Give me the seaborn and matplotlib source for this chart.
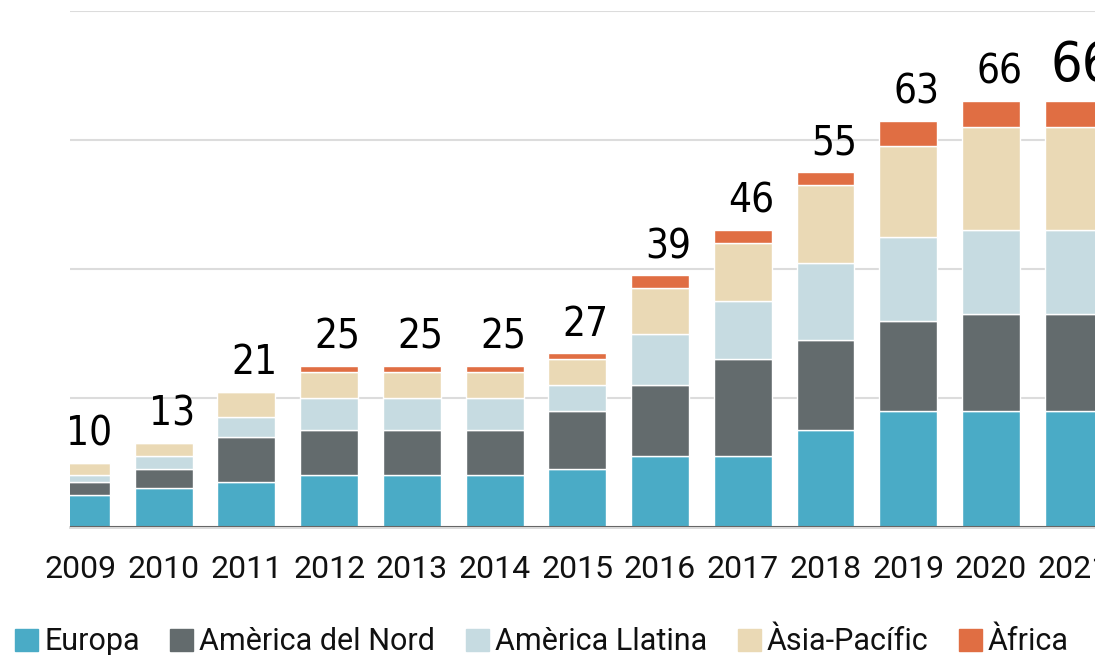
import numpy as np
import pandas as pd
import matplotlib
matplotlib.use('Agg')
import matplotlib.pyplot as plt
import seaborn as sns
from matplotlib.patches import Patch

# dades (llegides del gràfic)
years = ['2009', '2010', '2011', '2012', '2013', '2014', '2015',
         '2016', '2017', '2018', '2019', '2020', '2021']
europa = [5, 6, 7, 8, 8, 8, 9, 11, 11, 15, 18, 18, 18]
america_nord = [2, 3, 7, 7, 7, 7, 9, 11, 15, 14, 14, 15, 15]
america_llatina = [1, 2, 3, 5, 5, 5, 4, 8, 9, 12, 13, 13, 13]
asia_pacific = [2, 2, 4, 4, 4, 4, 4, 7, 9, 12, 14, 16, 16]
africa = [0, 0, 0, 1, 1, 1, 1, 2, 2, 2, 4, 4, 4]

regions = ['Europa', 'Amèrica del Nord', 'Amèrica Llatina', 'Àsia-Pacífic', 'Àfrica']
colors = ['#4AABC6', '#636B6D', '#C6DBE1', '#EAD9B5', '#E06E43']

df = pd.DataFrame({'year': years, 'Europa': europa, 'Amèrica del Nord': america_nord,
                   'Amèrica Llatina': america_llatina, 'Àsia-Pacífic': asia_pacific,
                   'Àfrica': africa})

sns.set_style('white')
plt.rcParams['font.family'] = ['Roboto', 'DejaVu Sans']
plt.rcParams['text.color'] = '#111111'
plt.rcParams['xtick.labelcolor'] = '#111111'

fig = plt.figure(figsize=(10.95, 6.55), dpi=100)
ax = fig.add_axes([70 / 1095, 128 / 655, 1045 / 1095, 516 / 655])

bottom = np.zeros(len(years))
for reg, col in zip(regions, colors):
    sns.barplot(data=df, x='year', y=reg, bottom=bottom, color=col, width=0.7,
                saturation=1, ax=ax, zorder=3)
    bottom = bottom + df[reg].values

totals = bottom
for i, t in enumerate(totals):
    big = (i == len(totals) - 1)
    ax.annotate(f'{int(t)}', (i, t), xytext=(6, 6), textcoords='offset points',
                ha='center', va='bottom', fontsize=40 if big else 29,
                family='DejaVu Sans', stretch='condensed', color='black',
                annotation_clip=False)

ax.set_xlim(-0.133, 12.5)
ax.set_ylim(0, 80)
ax.set_yticks([20, 40, 60, 80])
ax.yaxis.grid(True, color='#dcdcdc', lw=1.5, zorder=0)
ax.tick_params(axis='y', left=False, labelleft=False)
ax.set_xlabel('')
ax.set_ylabel('')

ax.set_xticks(range(len(years)))
ax.set_xticklabels(years, fontsize=23)
ax.set_xticks(np.arange(0.5, len(years), 1), minor=True)
ax.tick_params(axis='x', which='major', length=0, pad=20)
ax.tick_params(axis='x', which='minor', length=10, width=1.5, color='#d8d8d8')

for s in ['left', 'right', 'top']:
    ax.spines[s].set_visible(False)
ax.spines['bottom'].set_color('#d8d8d8')
ax.spines['bottom'].set_linewidth(2)
ax.axhline(0, color='#666666', lw=1.5, zorder=4)

handles = [Patch(facecolor=c, edgecolor=c, label=r) for r, c in zip(regions, colors)]
fig.legend(handles=handles, loc='center', bbox_to_anchor=(0.495, 1 - 642 / 655),
           ncol=5, frameon=False, fontsize=22, handlelength=0.75, handleheight=0.75,
           handletextpad=0.2, columnspacing=1.0, borderaxespad=0)

fig.savefig('out.png', dpi=100)
